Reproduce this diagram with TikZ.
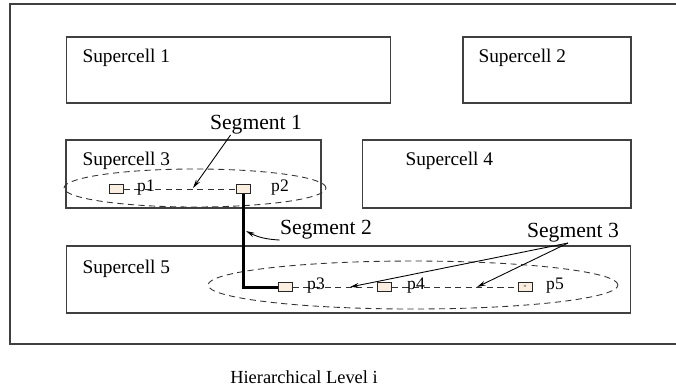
\documentclass[tikz,border=0pt]{standalone}
\usepackage{fontspec}
\setmainfont{Liberation Serif}
\usetikzlibrary{shapes.geometric,arrows.meta}
\definecolor{pinfill}{RGB}{250,238,224}
\tikzstyle{sc}=[shape=rectangle,
                draw=black!75,
                line width=0.6pt,
                inner sep=0pt]
\tikzstyle{pin}=[shape=rectangle,
                draw=black!85,
                fill=pinfill,
                line width=0.5pt,
                minimum width=0.28cm,
                minimum height=0.18cm,
                inner sep=0pt]
\tikzstyle{net}=[shape=ellipse,
                draw=black!80,
                dash pattern=on 3.5pt off 2.5pt,
                line width=0.5pt,
                inner sep=0pt]
\tikzstyle{wire}=[draw=black!80,
                dash pattern=on 3.5pt off 2.5pt,
                line width=0.5pt]
\tikzstyle{lbl}=[font=\fontsize{11}{13}\selectfont,
                anchor=west,
                inner sep=0pt]
\tikzstyle{seg}=[font=\fontsize{12.3}{14}\selectfont,
                inner sep=0pt]
\tikzstyle{pl}=[font=\fontsize{10}{12}\selectfont,
                inner sep=0pt]

\begin{document}
\begin{tikzpicture}[x=0.02cm,y=-0.02cm,>={Stealth[length=5pt,width=2.6pt]},semithick]
\useasboundingbox (0,0) rectangle (676,387);

% outer frame, open on the right
\draw[black!75,line width=0.6pt] (676,4) -- (10,4) -- (10,344) -- (676,344);

% supercells
\node[sc, minimum width=6.5cm,  minimum height=1.32cm] (sc1) at (228.5,70)  {};
\node[sc, minimum width=3.36cm, minimum height=1.32cm] (sc2) at (547,70)    {};
\node[sc, minimum width=5.1cm,  minimum height=1.36cm] (sc3) at (193.5,174) {};
\node[sc, minimum width=5.38cm, minimum height=1.36cm] (sc4) at (496.5,174) {};
\node[sc, minimum width=11.3cm, minimum height=1.34cm] (sc5) at (348.5,279.5) {};

\node[lbl] (t1) at (82,58)   {Supercell 1};
\node[lbl] (t2) at (478,58)  {Supercell 2};
\node[lbl] (t3) at (82,161)  {Supercell 3};
\node[lbl] (t4) at (405,161) {Supercell 4};
\node[lbl] (t5) at (82,269)  {Supercell 5};

% nets (dashed ellipses)
\node[net, minimum width=5.24cm, minimum height=0.76cm] (n1) at (195,188) {};
\node[net, minimum width=8.2cm,  minimum height=0.96cm] (n2) at (413,285) {};

% pins
\node[pin] (p1) at (116,189)   {};
\node[pin] (p2) at (243.5,189) {};
\node[pin] (p3) at (285.5,287) {};
\node[pin] (p4) at (384.5,287) {};
\node[pin] (p5) at (525,287)   {\fontsize{5}{5}\selectfont -};

% dashed wires inside the supercells
\draw[wire] (p1) -- (p2);
\draw[wire] (p3) -- (p4) -- (p5);

\node[pl] (l1) at (146,188) {p1};
\node[pl] (l2) at (280,188) {p2};
\node[pl] (l3) at (316,286) {p3};
\node[pl] (l4) at (416,286) {p4};
\node[pl] (l5) at (555,286) {p5};

% route between the two supercells
\draw[line width=1.7pt] (p2.south) |- (p3.west);

% segment labels and their arrows
\node[seg] (seg1) at (256,125) {Segment 1};
\node[seg] (seg2) at (326,230) {Segment 2};
\node[seg] (seg3) at (573,233) {Segment 3};

\coordinate (c1)  at (193,188);
\coordinate (c2)  at (246,231);
\coordinate (c3a) at (350,287);
\coordinate (c3b) at (477,287);

\draw[->,line width=0.5pt] ([xshift=0.42cm]seg1.south west) -- (c1);
\draw[->,line width=0.5pt] (seg2.south west) to[bend left=12] (c2);
\draw[->,line width=0.5pt] ([xshift=-0.1cm]seg3.south) -- (c3a);
\draw[->,line width=0.5pt] ([xshift=-0.1cm]seg3.south) -- (c3b);

% caption
\node[font=\fontsize{10.5}{12}\selectfont] (cap) at (304,377) {Hierarchical Level i};

\end{tikzpicture}
\end{document}
